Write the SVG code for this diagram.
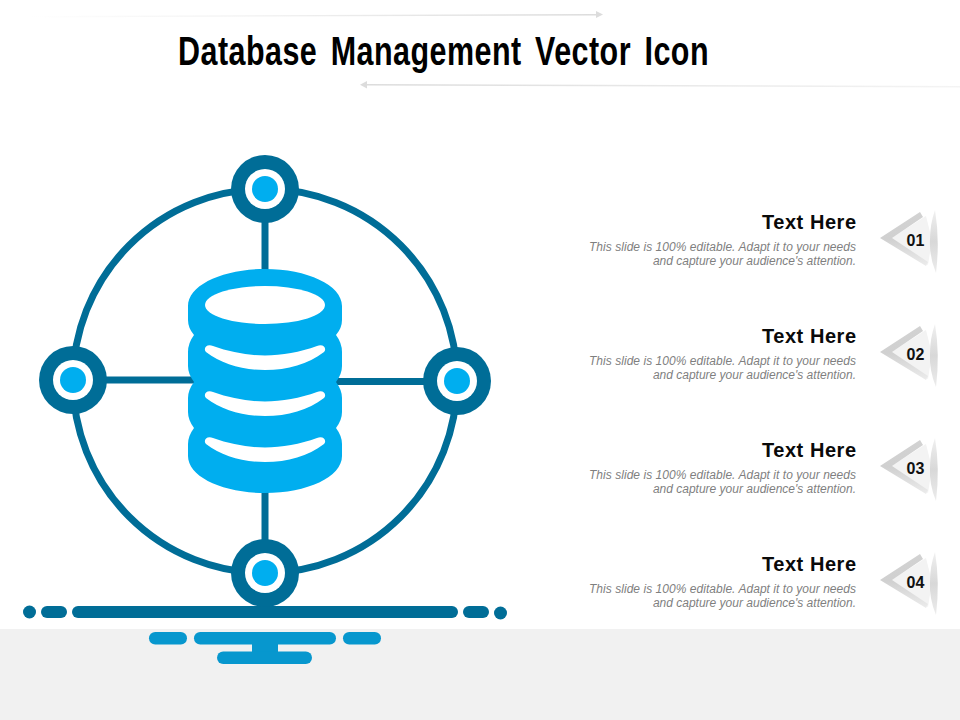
<svg xmlns="http://www.w3.org/2000/svg" width="960" height="720" viewBox="0 0 960 720">
<defs>
<linearGradient id="fadeR" x1="0" x2="1" y1="0" y2="0"><stop offset="0" stop-color="#fff"/><stop offset="1" stop-color="#dcdcdc"/></linearGradient>
<linearGradient id="fadeL" x1="0" x2="1" y1="0" y2="0"><stop offset="0" stop-color="#dcdcdc"/><stop offset="1" stop-color="#f4f4f4"/></linearGradient>
<linearGradient id="chev" x1="0" x2="0" y1="0" y2="1"><stop offset="0" stop-color="#d2d2d2"/><stop offset="0.5" stop-color="#d0d0d0"/><stop offset="1" stop-color="#ececec"/></linearGradient>
<linearGradient id="band" x1="0" x2="0" y1="0" y2="1"><stop offset="0" stop-color="#f0f0f0"/><stop offset="0.5" stop-color="#d8d8d8"/><stop offset="1" stop-color="#ececec"/></linearGradient>
<filter id="soft" x="-30%" y="-10%" width="160%" height="120%"><feGaussianBlur stdDeviation="0.7"/></filter>
<path id="crescent" d="M213 346 C230 352 248 355.500 265 355.500 C282 355.500 300 352 317 346 C324 343.500 327 349 324 352 C308 364 288 370 265 370 C242 370 222 364 206 352 C203 349 206 343.500 213 346Z" fill="#fff"/>
<g id="tag">
<path d="M890 239 L926 216 L932 240 L928 265Z" fill="#f3f3f3"/>
<g filter="url(#soft)">
<path d="M880 238 L920 212 L923 217 L892 238 L928 262 L926 266Z" fill="url(#chev)"/>
<path d="M935 210 Q940 240 936 273 Q929 256 930 240 Q930 224 935 210Z" fill="url(#band)"/>
</g>
</g>
</defs>
<style>
.ring{fill:none;stroke:#006d97;stroke-width:7}
.spoke{stroke:#006d97;stroke-width:7}
.dark{fill:#006d97}
.hole{fill:#fff}
.core{fill:#00aeef}
.stand{fill:#0797ce}
.h{font:bold 20px "Liberation Sans",Arial,sans-serif;fill:#0a0a0a;text-anchor:end}
.d{font:italic 12px "Liberation Sans",Arial,sans-serif;fill:#7f7f7f;text-anchor:end}
.n{font:bold 16px "Liberation Sans",Arial,sans-serif;fill:#111;text-anchor:middle}
</style>
<rect width="960" height="720" fill="#fff"/>
<rect id="floor" y="629" width="960" height="91" fill="#f1f1f1"/>
<g id="deco-arrows">
<path d="M30 16 L596 14 L596 15.400 L30 17.400Z" fill="url(#fadeR)"/>
<path d="M596 11 L603 14.500 L596 18Z" fill="#dcdcdc"/>
<path d="M366 84 L960 86 L960 87.400 L366 85.400Z" fill="url(#fadeL)"/>
<path d="M367 81 L360 84.700 L367 88.500Z" fill="#dcdcdc"/>
</g>
<text id="title" x="178" y="65" textLength="531" lengthAdjust="spacingAndGlyphs" style="font:bold 40px 'Liberation Sans',Arial,sans-serif;fill:#000;word-spacing:6px;letter-spacing:0.600px">Database Management Vector Icon</text>
<g id="connectors">
<circle class="ring" cx="265" cy="381" r="192"/>
<line class="spoke" x1="265" y1="189" x2="265" y2="275"/>
<line class="spoke" x1="265" y1="488" x2="265" y2="573"/>
<line class="spoke" x1="73" y1="380" x2="195" y2="380"/>
<line class="spoke" x1="335" y1="381.500" x2="457" y2="381.500"/>
</g>
<g id="base">
<circle class="dark" cx="29.500" cy="612" r="6.500"/>
<rect class="dark" x="41" y="606" width="26" height="12" rx="6"/>
<rect class="dark" x="72" y="606" width="386" height="12" rx="6"/>
<rect class="dark" x="463" y="606" width="26" height="12" rx="6"/>
<circle class="dark" cx="500.500" cy="613" r="6.500"/>
</g>
<g id="stand">
<rect class="stand" x="149" y="632" width="38" height="12.500" rx="6.200"/>
<rect class="stand" x="194" y="632" width="142" height="12.500" rx="6.200"/>
<rect class="stand" x="343" y="632" width="38" height="12.500" rx="6.200"/>
<rect class="stand" x="252" y="640" width="26" height="16"/>
<rect class="stand" x="217" y="651.500" width="95" height="12.500" rx="6.200"/>
</g>
<g id="node-top"><circle class="dark" cx="265" cy="189" r="34"/><circle class="hole" cx="265" cy="189" r="20"/><circle class="core" cx="265" cy="189" r="13"/></g>
<g id="node-left"><circle class="dark" cx="73" cy="380" r="34"/><circle class="hole" cx="73" cy="380" r="20"/><circle class="core" cx="73" cy="380" r="13"/></g>
<g id="node-right"><circle class="dark" cx="457" cy="381" r="34"/><circle class="hole" cx="457" cy="381" r="20"/><circle class="core" cx="457" cy="381" r="13"/></g>
<g id="node-bottom"><circle class="dark" cx="265" cy="573" r="34"/><circle class="hole" cx="265" cy="573" r="20"/><circle class="core" cx="265" cy="573" r="13"/></g>
<g id="database">
<path class="core" d="M188 306 C188 285 223 269 265 269 C307 269 342 285 342 306 V320 Q342 328 336 335 Q342 343 342 352 V366 Q342 374 336 382 Q342 390 342 398 V412 Q342 420 336 428 Q342 436 342 444 V456 C342 477 307 493 265 493 C223 493 188 477 188 456 V444 Q188 436 194 428 Q188 420 188 412 V398 Q188 390 194 382 Q188 374 188 366 V352 Q188 343 194 335 Q188 328 188 320Z"/>
<ellipse cx="265" cy="305" rx="60" ry="19" fill="#fff"/>
<use href="#crescent"/>
<use href="#crescent" y="46"/>
<use href="#crescent" y="92"/>
</g>
<g id="item-1">
<use href="#tag"/>
<text class="n" x="915.500" y="246">01</text>
<text class="h" x="856" y="229" textLength="94" lengthAdjust="spacing">Text Here</text>
<text class="d" x="856" y="250.500" textLength="267" lengthAdjust="spacing">This slide is 100% editable. Adapt it to your needs</text>
<text class="d" x="856" y="265">and capture your audience's attention.</text>
</g>
<g id="item-2">
<use href="#tag" y="114"/>
<text class="n" x="915.500" y="360">02</text>
<text class="h" x="856" y="343" textLength="94" lengthAdjust="spacing">Text Here</text>
<text class="d" x="856" y="364.500" textLength="267" lengthAdjust="spacing">This slide is 100% editable. Adapt it to your needs</text>
<text class="d" x="856" y="379">and capture your audience's attention.</text>
</g>
<g id="item-3">
<use href="#tag" y="228"/>
<text class="n" x="915.500" y="474">03</text>
<text class="h" x="856" y="457" textLength="94" lengthAdjust="spacing">Text Here</text>
<text class="d" x="856" y="478.500" textLength="267" lengthAdjust="spacing">This slide is 100% editable. Adapt it to your needs</text>
<text class="d" x="856" y="493">and capture your audience's attention.</text>
</g>
<g id="item-4">
<use href="#tag" y="342"/>
<text class="n" x="915.500" y="588">04</text>
<text class="h" x="856" y="571" textLength="94" lengthAdjust="spacing">Text Here</text>
<text class="d" x="856" y="592.500" textLength="267" lengthAdjust="spacing">This slide is 100% editable. Adapt it to your needs</text>
<text class="d" x="856" y="607">and capture your audience's attention.</text>
</g>
</svg>
